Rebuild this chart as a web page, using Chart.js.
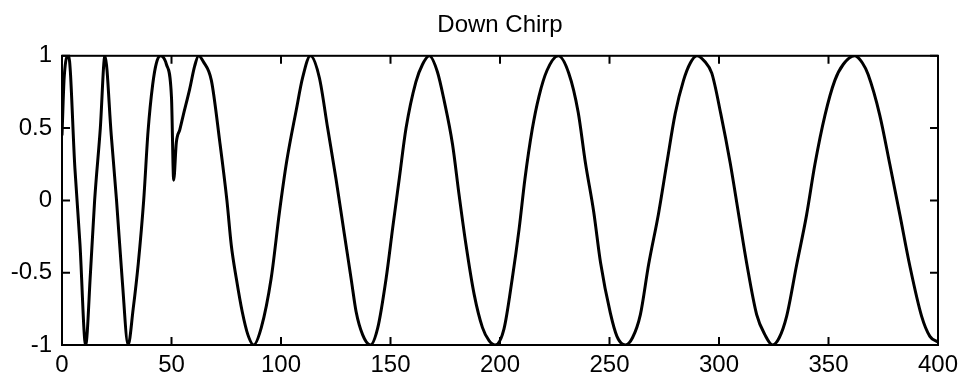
<!DOCTYPE html>
<html>
<head>
<meta charset="utf-8">
<title>Down Chirp</title>
<script src="https://cdn.jsdelivr.net/npm/chart.js@4/dist/chart.umd.min.js"></script>
<style>
  html, body { margin: 0; padding: 0; background: #fff; }
  canvas { display: block; }
</style>
</head>
<body>
<canvas id="chirp" width="967" height="382"></canvas>
<script>
// sample index and amplitude of the chirp, read point by point
const sampleIdx = [
  0, 1, 3, 5.9, 8.2, 10.8, 13, 14.9, 17.5, 19.6,
  22.5, 24.9, 27.5, 30.2, 32.5, 34.8, 37.3, 39.3, 41.4, 43.1,
  45, 47.7, 50, 51, 52.2, 53.8, 55.3, 58.3, 60.6, 62.4,
  64.5, 68.2, 72, 75.3, 77.3, 79.6, 82.3, 84.9, 87.5,
  91, 95.5, 99.3, 102.6, 106.9, 109.9, 113.4,
  117.5, 121.3, 125.1, 128.9, 130.8, 132.2, 134.3, 137.3, 140.8,
  144.2, 148, 151, 154, 157.1, 161.6, 164.6, 167.7,
  171.4, 174.5, 178.3, 181.3, 184.4, 188.2, 192, 195, 197.8,
  201.8, 205.6, 208.7, 211.4, 214.7, 217.8, 221.5, 226.6,
  231.4, 235.7, 239, 242.8, 245.9, 250.4, 253.4, 257.3,
  260.5, 264.1, 267.9, 272.4, 276.2, 280, 283.8, 286.9, 289.9,
  293.5, 296.7, 300.8, 305.1, 308.9, 312.7, 317.2, 321, 324.5,
  327.5, 330.9, 335.4, 340, 343.8, 348.4, 352.9, 356.7, 362,
  365.5, 368.1, 373.4, 378, 382.6, 387.1, 392.5, 396.3, 400
];
const amplitude = [
  0.45, 0.85, 1, 0.22, -0.3, -1, -0.5, 0, 0.5, 1,
  0.45, 0, -0.55, -1, -0.75, -0.44, 0, 0.48, 0.8, 0.95,
  1, 0.94, 0.71, 0.14, 0.4, 0.49, 0.585, 0.77, 0.93, 1,
  0.96, 0.83, 0.41, 0, -0.31, -0.54, -0.77, -0.93, -1,
  -0.88, -0.54, -0.08, 0.27, 0.62, 0.85, 1,
  0.85, 0.5, 0.15, -0.23, -0.42, -0.56, -0.77, -0.93, -1,
  -0.88, -0.54, -0.19, 0.15, 0.5, 0.82, 0.94, 1,
  0.89, 0.69, 0.39, 0.04, -0.3, -0.65, -0.88, -0.97, -1,
  -0.89, -0.54, -0.2, 0.15, 0.49, 0.72, 0.9, 1,
  0.88, 0.61, 0.26, -0.08, -0.43, -0.78, -0.94, -1,
  -0.95, -0.79, -0.44, -0.09, 0.26, 0.6, 0.83, 0.95, 1,
  0.96, 0.88, 0.6, 0.26, -0.09, -0.44, -0.79, -0.93, -1,
  -0.95, -0.8, -0.45, -0.1, 0.25, 0.59, 0.83, 0.94, 1,
  0.95, 0.87, 0.59, 0.25, -0.1, -0.45, -0.8, -0.94, -0.98
];
const xTicks = [0, 50, 100, 150, 200, 250, 300, 350, 400];
const yTicks = [-1, -0.5, 0, 0.5, 1];

const points = sampleIdx.map((x, i) => ({ x, y: amplitude[i] }));

// box around the axes with inward tick marks on all four sides
const axesBox = {
  id: 'axesBox',
  afterDatasetsDraw(chart) {
    const { ctx, chartArea: a, scales: { x, y } } = chart;
    const len = 8;
    ctx.save();
    ctx.strokeStyle = '#000';
    ctx.lineWidth = 2;
    ctx.strokeRect(a.left, a.top, a.right - a.left, a.bottom - a.top);
    ctx.beginPath();
    x.ticks.forEach(t => {
      const px = x.getPixelForValue(t.value);
      ctx.moveTo(px, a.bottom); ctx.lineTo(px, a.bottom - len);
      ctx.moveTo(px, a.top); ctx.lineTo(px, a.top + len);
    });
    y.ticks.forEach(t => {
      const py = y.getPixelForValue(t.value);
      ctx.moveTo(a.left, py); ctx.lineTo(a.left + len, py);
      ctx.moveTo(a.right, py); ctx.lineTo(a.right - len, py);
    });
    ctx.stroke();
    ctx.restore();
  }
};

const tickFont = { family: '"Liberation Sans", Arial, sans-serif', size: 24 };

new Chart(document.getElementById('chirp'), {
  type: 'scatter',
  data: {
    datasets: [{
      data: points,
      showLine: true,
      borderColor: '#000',
      borderWidth: 3,
      pointRadius: 0,
      cubicInterpolationMode: 'monotone',
      fill: false
    }]
  },
  options: {
    responsive: false,
    animation: false,
    layout: { padding: { left: 0, right: 29, top: 0, bottom: 0 } },
    plugins: {
      legend: { display: false },
      tooltip: { enabled: false },
      title: {
        display: true,
        text: 'Down Chirp',
        fullSize: false,
        color: '#000',
        font: { family: '"Liberation Sans", Arial, sans-serif', size: 24, weight: 'normal' },
        padding: { top: 11, bottom: 16 }
      }
    },
    scales: {
      x: {
        type: 'linear',
        min: 0,
        max: 400,
        afterBuildTicks: s => { s.ticks = xTicks.map(v => ({ value: v })); },
        afterFit: s => { s.height = 37; },
        grid: { display: false, drawTicks: false },
        border: { display: false },
        ticks: { color: '#000', font: tickFont, padding: 6, maxRotation: 0, callback: v => String(v) }
      },
      y: {
        type: 'linear',
        min: -1,
        max: 1,
        afterBuildTicks: s => { s.ticks = yTicks.map(v => ({ value: v })); },
        afterFit: s => { s.width = 62; },
        grid: { display: false, drawTicks: false },
        border: { display: false },
        ticks: { color: '#000', font: tickFont, padding: 10, callback: v => String(v) }
      }
    }
  },
  plugins: [axesBox]
});
</script>
</body>
</html>
